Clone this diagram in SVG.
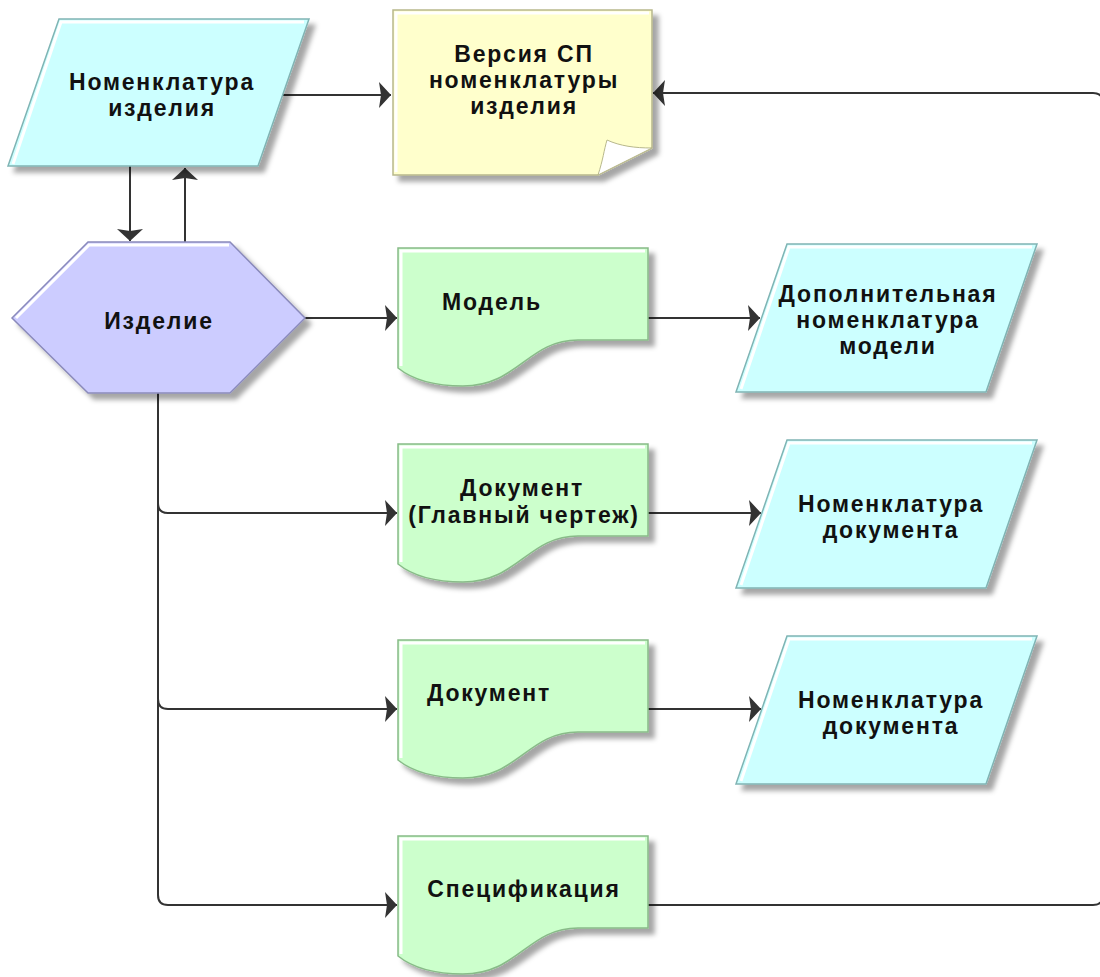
<svg xmlns="http://www.w3.org/2000/svg" width="1100" height="977" viewBox="0 0 1100 977">
<defs>
<filter id="sh" x="-10%" y="-10%" width="130%" height="130%">
<feGaussianBlur in="SourceAlpha" stdDeviation="2.5"/>
<feOffset dx="6" dy="6" result="b"/>
<feFlood flood-color="#000" flood-opacity="0.35"/>
<feComposite in2="b" operator="in"/>
<feMerge><feMergeNode/><feMergeNode in="SourceGraphic"/></feMerge>
</filter>
<marker id="ah" viewBox="0 0 12 26" markerWidth="12" markerHeight="26" refX="12" refY="13" orient="auto" markerUnits="userSpaceOnUse">
<path d="M0,0 L12,13 L0,26 L2,13 Z" fill="#333"/>
</marker>
<path id="doc" d="M0,0 H250 V92 H180 C130,92 120,138 65,138 C35,138 15,132 0,120 Z"/>
<path id="dochl" d="M3,118 V3 H247"/>
<polygon id="para" points="51,0 301,0 250,148 0,148"/>
<polyline id="parahl" points="5,145 53,3 296,3"/>
</defs>
<style>
.t{font-family:"Liberation Sans",Arial,sans-serif;font-weight:bold;font-size:23px;letter-spacing:1.8px;fill:#111;text-anchor:middle}
.cy{fill:#ccffff;stroke:#80b4b4;stroke-width:1.5}
.gr{fill:#ccffcc;stroke:#88bb88;stroke-width:1.5}
.ye{fill:#ffffcc;stroke:#b8b88c;stroke-width:1.5}
.pu{fill:#ccccff;stroke:#8a8abb;stroke-width:1.5}
.hl{fill:none;stroke:#fff;stroke-width:3}
.c{fill:none;stroke:#333;stroke-width:2}
</style>

<g id="connectors">
<path class="c" d="M282,95 H391" marker-end="url(#ah)"/>
<path class="c" d="M130,166 V241" marker-end="url(#ah)"/>
<path class="c" d="M185,242 V168" marker-end="url(#ah)"/>
<path class="c" d="M305,318 H397" marker-end="url(#ah)"/>
<path class="c" d="M158,392 V503 Q158,513 168,513 H397" marker-end="url(#ah)"/>
<path class="c" d="M158,500 V699 Q158,709 168,709 H397" marker-end="url(#ah)"/>
<path class="c" d="M158,700 V895 Q158,905 168,905 H397" marker-end="url(#ah)"/>
<path class="c" d="M648,318 H760" marker-end="url(#ah)"/>
<path class="c" d="M648,513 H761" marker-end="url(#ah)"/>
<path class="c" d="M648,709 H761" marker-end="url(#ah)"/>
<path class="c" d="M648,905 H1093 Q1103,905 1103,895 V103 Q1103,93 1093,93 H653" marker-end="url(#ah)"/>
</g>

<g id="n1">
<use href="#para" class="cy" filter="url(#sh)" transform="translate(8,19) scale(1,0.993)"/>
<use href="#parahl" class="hl" transform="translate(8,19)"/>
<text class="t" x="162" y="90">Номенклатура</text>
<text class="t" x="162" y="116">изделия</text>
</g>

<g id="n2">
<path class="ye" filter="url(#sh)" d="M393,10 H652 V148 L598,175 H393 Z"/>
<path class="hl" d="M396,172 V13 H649"/>
<path d="M598,175 C603,160 604,150 607,140 C620,146 635,148 652,148 Z" fill="#fff" stroke="#b8b88c" stroke-width="1"/>
<text class="t" x="524" y="62">Версия СП</text>
<text class="t" x="524" y="88">номенклатуры</text>
<text class="t" x="524" y="114">изделия</text>
</g>

<g id="n3">
<polygon class="pu" filter="url(#sh)" points="12,318 88,242 230,242 305,318 230,393 88,393"/>
<polyline class="hl" points="16,318 89,245 229,245"/>
<text class="t" x="159" y="329">Изделие</text>
</g>

<g id="n4">
<use href="#doc" class="gr" filter="url(#sh)" transform="translate(398,248)"/>
<use href="#dochl" class="hl" transform="translate(398,248)"/>
<text class="t" x="492" y="310">Модель</text>
</g>

<g id="n5">
<use href="#para" class="cy" filter="url(#sh)" transform="translate(736,244)"/>
<use href="#parahl" class="hl" transform="translate(736,244)"/>
<text class="t" x="888" y="302">Дополнительная</text>
<text class="t" x="888" y="328">номенклатура</text>
<text class="t" x="888" y="354">модели</text>
</g>

<g id="n6">
<use href="#doc" class="gr" filter="url(#sh)" transform="translate(398,444)"/>
<use href="#dochl" class="hl" transform="translate(398,444)"/>
<text class="t" x="522" y="496">Документ</text>
<text class="t" x="524" y="523">(Главный чертеж)</text>
</g>

<g id="n7">
<use href="#para" class="cy" filter="url(#sh)" transform="translate(736,440)"/>
<use href="#parahl" class="hl" transform="translate(736,440)"/>
<text class="t" x="891" y="512">Номенклатура</text>
<text class="t" x="891" y="538">документа</text>
</g>

<g id="n8">
<use href="#doc" class="gr" filter="url(#sh)" transform="translate(398,640)"/>
<use href="#dochl" class="hl" transform="translate(398,640)"/>
<text class="t" x="489" y="701">Документ</text>
</g>

<g id="n9">
<use href="#para" class="cy" filter="url(#sh)" transform="translate(736,636)"/>
<use href="#parahl" class="hl" transform="translate(736,636)"/>
<text class="t" x="891" y="708">Номенклатура</text>
<text class="t" x="891" y="734">документа</text>
</g>

<g id="n10">
<use href="#doc" class="gr" filter="url(#sh)" transform="translate(398,836)"/>
<use href="#dochl" class="hl" transform="translate(398,836)"/>
<text class="t" x="524" y="897">Спецификация</text>
</g>
</svg>
